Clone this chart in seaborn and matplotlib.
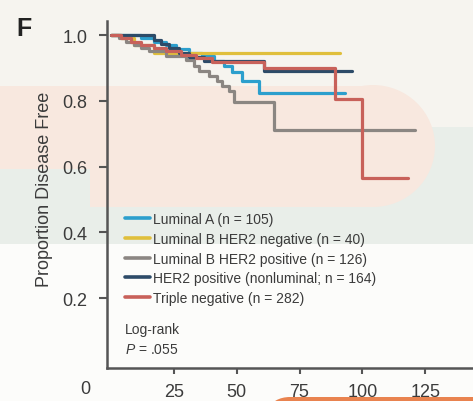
import matplotlib
matplotlib.use("Agg")
import numpy as np
import pandas as pd
import matplotlib.pyplot as plt
from matplotlib.patches import Rectangle, Ellipse
import seaborn as sns

# Kaplan-Meier step data per subtype (months, proportion disease free)
lum_a_time = [0, 12, 17, 22, 26, 31, 36, 41, 45, 48, 52, 59, 93]
lum_a_surv = [1.0, 0.99, 0.98, 0.97, 0.957, 0.945, 0.935, 0.92, 0.905, 0.888, 0.86, 0.825, 0.825]

lum_b_neg_time = [0, 4, 9, 17, 91]
lum_b_neg_surv = [1.0, 0.99, 0.97, 0.945, 0.945]

lum_b_pos_time = [0, 3, 6, 9, 12, 15, 22, 30, 33, 35, 39, 42, 44, 47, 49, 65, 121]
lum_b_pos_surv = [1.0, 0.99, 0.98, 0.97, 0.96, 0.95, 0.935, 0.925, 0.905, 0.89, 0.875,
                  0.86, 0.845, 0.83, 0.795, 0.71, 0.71]

her2_time = [0, 17, 20, 23, 27, 31, 37, 61, 96]
her2_surv = [1.0, 0.985, 0.972, 0.96, 0.945, 0.932, 0.92, 0.892, 0.892]

tn_time = [0, 4, 8, 12, 17, 22, 28, 34, 40, 61, 89, 100, 118]
tn_surv = [1.0, 0.99, 0.98, 0.97, 0.96, 0.95, 0.94, 0.93, 0.918, 0.9, 0.806, 0.564, 0.564]

group_labels = [
    "Luminal A (n = 105)",
    "Luminal B HER2 negative (n = 40)",
    "Luminal B HER2 positive (n = 126)",
    "HER2 positive (nonluminal; n = 164)",
    "Triple negative (n = 282)",
]
group_colors = ["#2c9fcd", "#e0bf3c", "#8b8682", "#2d4b68", "#c8615a"]

x_ticks = [25, 50, 75, 100, 125]
y_ticks = [0.2, 0.4, 0.6, 0.8, 1.0]
y_tick_labels = ["0.2", "0.4", "0.6", "0.8", "1.0"]

series = [
    (lum_a_time, lum_a_surv),
    (lum_b_neg_time, lum_b_neg_surv),
    (lum_b_pos_time, lum_b_pos_surv),
    (her2_time, her2_surv),
    (tn_time, tn_surv),
]
frames = []
for label, (t, s) in zip(group_labels, series):
    frames.append(pd.DataFrame({"time": t, "surv": s, "group": label}))
df = pd.concat(frames, ignore_index=True)

sns.set_theme(style="white")
plt.rcParams["font.family"] = ["Liberation Sans", "DejaVu Sans"]
plt.rcParams["mathtext.fontset"] = "custom"
plt.rcParams["mathtext.it"] = "Liberation Sans:italic"
plt.rcParams["mathtext.rm"] = "Liberation Sans"

W, H = 473, 402
fig = plt.figure(figsize=(W / 100, H / 100), dpi=100)
fig.patch.set_facecolor("#fcfcfa")


def fx(px):
    return px / W


def fy(py):
    return 1 - py / H


def band(x0, y0, x1, y1, color, z=-10):
    fig.patches.append(Rectangle((fx(x0), fy(y1)), (x1 - x0) / W, (y1 - y0) / H,
                                 transform=fig.transFigure, facecolor=color,
                                 edgecolor="none", zorder=z))


def blob(cx, cy, w, h, color, z=-9):
    fig.patches.append(Ellipse((fx(cx), fy(cy)), w / W, h / H, transform=fig.transFigure,
                               facecolor=color, edgecolor="none", zorder=z))


# soft page background
salmon, teal = "#f8e8df", "#e9eee9"
band(0, 0, W, 128, "#f6f4ef")
band(0, 128, W, 245, teal)
band(0, 87, 373, 170, salmon, -9)
band(90, 170, 373, 208, salmon, -9)
blob(373, 147, 124, 122, salmon)
blob(290, 410, 40, 24, "#e9834f")
band(290, 398, W, 402, "#e9834f", -9)

ax = fig.add_axes([fx(107), fy(369), (W - 107) / W, (369 - 22) / H])
ax.set_facecolor("none")

sns.lineplot(data=df, x="time", y="surv", hue="group", hue_order=group_labels,
             palette=dict(zip(group_labels, group_colors)), estimator=None, sort=False,
             units="group", drawstyle="steps-post", linewidth=2.3, ax=ax, legend=True)

ax.set_xlim(-1.6, 144)
ax.set_ylim(-0.0128, 1.0426)
ax.set_xticks(x_ticks)
ax.set_xticklabels([str(v) for v in x_ticks])
ax.set_yticks(y_ticks)
ax.set_yticklabels(y_tick_labels)
ax.set_xlabel("")
ax.set_ylabel("")

for side in ("top", "right"):
    ax.spines[side].set_visible(False)
for side in ("left", "bottom"):
    ax.spines[side].set_color("#555555")
    ax.spines[side].set_linewidth(1.8)

text_color = "#3b3b3b"
ax.tick_params(axis="y", direction="out", length=6, width=1.5, color="#555555",
               labelsize=13, labelcolor=text_color, pad=8, left=True)
ax.tick_params(axis="x", direction="out", length=4, width=1.5, color="#555555",
               labelsize=13, labelcolor=text_color, pad=7, bottom=True)

handles, labels = ax.get_legend_handles_labels()
leg = ax.legend(handles, labels, loc="upper left", bbox_to_anchor=(0.049, 0.45),
                frameon=False, fontsize=10, handlelength=1.8, handletextpad=0.2,
                labelspacing=0.42, borderpad=0, borderaxespad=0)
for line in leg.get_lines():
    line.set_linewidth(2.6)
for t in leg.get_texts():
    t.set_color(text_color)

note_x = (125 - 107) / (W - 107)
ax.text(note_x, (369 - 330) / 347, "Log-rank", transform=ax.transAxes,
        ha="left", va="center", fontsize=10, color=text_color)
ax.text(note_x, (369 - 350) / 347, r"$\mathit{P}$ = .055",
        transform=ax.transAxes, ha="left", va="center", fontsize=10, color=text_color)

fig.text(fx(45), fy(189), "Proportion Disease Free", rotation=90, ha="center", va="center",
         fontsize=13, color=text_color)
fig.text(fx(24), fy(29), "F", ha="center", va="center", fontsize=18, fontweight="bold",
         color="#222222")
fig.text(fx(85), fy(390), "0", ha="center", va="center", fontsize=13, color=text_color)

fig.savefig("out.png", dpi=100, facecolor=fig.get_facecolor())
